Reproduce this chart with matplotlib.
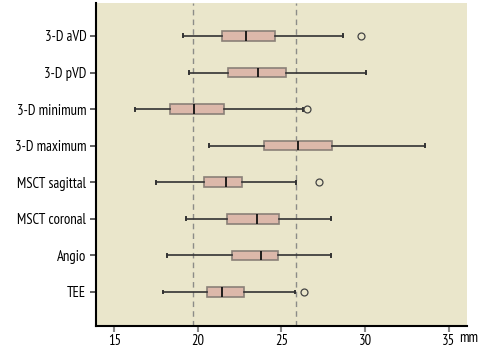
import matplotlib
matplotlib.use('Agg')
import matplotlib.pyplot as plt

plt.rcParams['font.family'] = ['PT Sans Narrow', 'Roboto Condensed', 'DejaVu Sans']

labels = ['TEE', 'Angio', 'MSCT coronal', 'MSCT sagittal',
          '3-D maximum', '3-D minimum', '3-D pVD', '3-D aVD']
whislo = [17.93, 18.15, 19.30, 17.49, 20.67, 16.23, 19.46, 19.12]
q1 = [20.57, 22.06, 21.75, 20.39, 23.98, 18.30, 21.77, 21.45]
med = [21.43, 23.76, 23.54, 21.67, 25.96, 19.76, 23.62, 22.88]
q3 = [22.74, 24.77, 24.83, 22.62, 28.00, 21.53, 25.25, 24.59]
whishi = [25.82, 27.96, 27.97, 25.85, 33.58, 26.26, 30.04, 28.67]
fliers = [[26.34], [], [], [27.24], [], [26.54], [], [29.76]]
ref_lines = [19.72, 25.87]

stats = []
for i in range(len(labels)):
    stats.append(dict(label=labels[i], whislo=whislo[i], q1=q1[i], med=med[i],
                      q3=q3[i], whishi=whishi[i], fliers=fliers[i]))

fig = plt.figure(figsize=(5.02, 3.48), dpi=100)
ax = fig.add_axes([96 / 502, 22 / 348, (467 - 96) / 502, (326 - 3) / 348])
ax.set_facecolor('#eae6cb')

for x in ref_lines:
    ax.axvline(x, color='#8c8c88', ls=(0, (4, 3)), lw=1, zorder=1)

ax.bxp(stats, positions=range(1, len(labels) + 1), vert=False, widths=0.26,
       patch_artist=True, manage_ticks=False,
       boxprops=dict(facecolor='#dcb8aa', edgecolor='#8a8078', lw=1.2),
       medianprops=dict(color='#111111', lw=1.3),
       whiskerprops=dict(color='#333333', lw=1.2),
       capprops=dict(color='#333333', lw=1.4),
       capwidths=0.08,
       flierprops=dict(marker='o', markersize=5, markerfacecolor='none',
                       markeredgecolor='#444444', markeredgewidth=0.9),
       zorder=3)

ax.set_xlim(13.9, 36.1)
ax.set_ylim(0.07, 8.9)
ax.set_xticks([15, 20, 25, 30, 35])
ax.set_yticks(range(1, len(labels) + 1))
ax.set_yticklabels(labels)
ax.tick_params(axis='both', labelsize=10.5, direction='out')
ax.tick_params(axis='y', length=4, width=1.2, color='#444444', pad=3)
ax.tick_params(axis='x', length=4, width=1.5, color='#888888', pad=2)
for s in ['top', 'right']:
    ax.spines[s].set_visible(False)
for s in ['left', 'bottom']:
    ax.spines[s].set_linewidth(1.5)
ax.text(0.978, -0.037, 'mm', transform=ax.transAxes, fontsize=10.5,
        ha='left', va='center')

fig.savefig('out.png', dpi=100)
